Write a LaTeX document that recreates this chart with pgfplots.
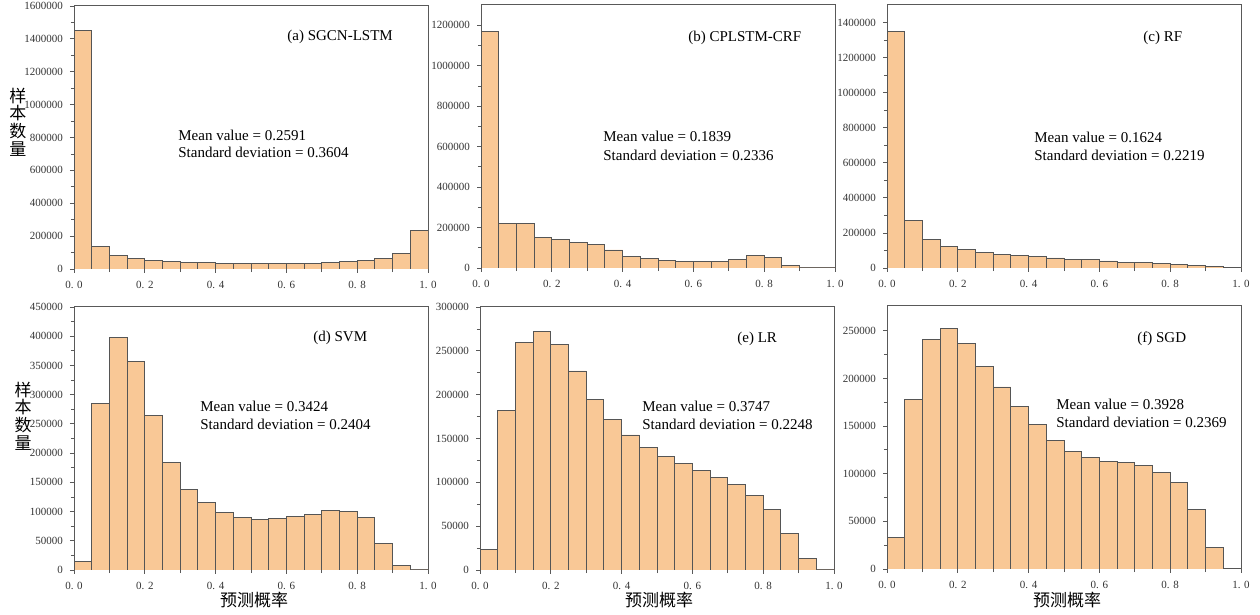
\documentclass[border=0pt]{standalone}
\usepackage{fontspec}
\setmainfont{Liberation Serif}
\newfontfamily\cjk{Noto Sans CJK SC}
\usepackage{pgfplots}
\pgfplotsset{compat=1.18}
\definecolor{barfill}{RGB}{249,200,150}
\definecolor{bardraw}{RGB}{85,85,85}
\pgfplotsset{
  hist/.style={
    scale only axis, width=177pt, height=131.5pt, anchor=south west,
    xmin=0, xmax=1, ymin=0,
    xtick={0,0.2,0.4,0.6,0.8,1.0},
    xticklabels={0. 0,0. 2,0. 4,0. 6,0. 8,1. 0},
    minor xtick={0.1,0.3,0.5,0.7,0.9},
    minor y tick num=1,
    tick align=outside, xtick pos=bottom, ytick pos=left,
    major tick length=2pt, minor tick length=1.6pt,
    axis line style={draw=black!65, line width=0.5pt},
    tick style={draw=black!65, line width=0.4pt},
    ticklabel style={font=\fontsize{5.5pt}{6pt}\selectfont, text=black!80},
    xticklabel style={yshift=-0.5pt},
    scaled y ticks=false,
    yticklabel style={/pgf/number format/fixed,/pgf/number format/1000 sep={},/pgf/number format/assume math mode=true},
    xticklabel style={/pgf/number format/assume math mode=true},
  },
  bars/.style={ybar interval, fill=barfill, draw=bardraw, line width=0.45pt},
}
\begin{document}
\begin{tikzpicture}
\path[use as bounding box] (0,0) rectangle (630pt,307.5pt);
% (a)
\begin{axis}[hist, at={(37pt,173pt)}, ymax=1600000,
  ytick={0,200000,400000,600000,800000,1000000,1200000,1400000,1600000}]
\addplot[bars] coordinates {(0,1450000) (0.05,136000) (0.10,84000) (0.15,64000) (0.20,54000) (0.25,48000) (0.30,42000) (0.35,37000) (0.40,35000) (0.45,35000) (0.50,34000) (0.55,34000) (0.60,35000) (0.65,35000) (0.70,38000) (0.75,45000) (0.80,51000) (0.85,64000) (0.90,94000) (0.95,235000) (1.0,235000)};
\end{axis}
% (b)
\begin{axis}[hist, at={(240.5pt,173.5pt)}, ymax=1300000,
  ytick={0,200000,400000,600000,800000,1000000,1200000}]
\addplot[bars] coordinates {(0,1167000) (0.05,219000) (0.10,219000) (0.15,151000) (0.20,141000) (0.25,128000) (0.30,118000) (0.35,89000) (0.40,59000) (0.45,48000) (0.50,39500) (0.55,30000) (0.60,30000) (0.65,31000) (0.70,43000) (0.75,64000) (0.80,54000) (0.85,13000) (0.90,0) (0.95,0) (1.0,0)};
\end{axis}
% (c)
\begin{axis}[hist, at={(443.5pt,173.5pt)}, ymax=1500000,
  ytick={0,200000,400000,600000,800000,1000000,1200000,1400000}]
\addplot[bars] coordinates {(0,1347000) (0.05,272000) (0.10,162000) (0.15,124000) (0.20,105000) (0.25,90000) (0.30,78000) (0.35,70500) (0.40,63000) (0.45,57000) (0.50,51000) (0.55,46000) (0.60,40000) (0.65,34000) (0.70,32000) (0.75,27000) (0.80,21000) (0.85,15000) (0.90,11000) (0.95,5000) (1.0,5000)};
\end{axis}
% (d)
\begin{axis}[hist, at={(37pt,22.5pt)}, ymax=450000,
  ytick={0,50000,100000,150000,200000,250000,300000,350000,400000,450000}]
\addplot[bars] coordinates {(0,14300) (0.05,285500) (0.10,398000) (0.15,356000) (0.20,265000) (0.25,184000) (0.30,138000) (0.35,116000) (0.40,99000) (0.45,90000) (0.50,87000) (0.55,88000) (0.60,91000) (0.65,95000) (0.70,102000) (0.75,100500) (0.80,90000) (0.85,45700) (0.90,8000) (0.95,0) (1.0,0)};
\end{axis}
% (e)
\begin{axis}[hist, at={(240pt,22.5pt)}, ymax=300000,
  ytick={0,50000,100000,150000,200000,250000,300000}]
\addplot[bars] coordinates {(0,23200) (0.05,182000) (0.10,260000) (0.15,272000) (0.20,257700) (0.25,227000) (0.30,195000) (0.35,172000) (0.40,154000) (0.45,140000) (0.50,129000) (0.55,121500) (0.60,114000) (0.65,106000) (0.70,98000) (0.75,85000) (0.80,68500) (0.85,42000) (0.90,13300) (0.95,0) (1.0,0)};
\end{axis}
% (f)
\begin{axis}[hist, at={(443.5pt,23pt)}, ymax=276000,
  ytick={0,50000,100000,150000,200000,250000}]
\addplot[bars] coordinates {(0,32800) (0.05,178000) (0.10,241000) (0.15,252000) (0.20,237000) (0.25,213000) (0.30,191000) (0.35,171000) (0.40,152000) (0.45,135000) (0.50,123600) (0.55,117000) (0.60,112800) (0.65,112000) (0.70,109000) (0.75,101600) (0.80,90800) (0.85,62000) (0.90,23000) (0.95,700) (1.0,700)};
\end{axis}
% texts
\begin{scope}[every node/.style={inner sep=0pt, anchor=west, font=\fontsize{7.5pt}{9pt}\selectfont}]
\node at (143.5pt,289pt) {(a) SGCN-LSTM};
\node at (344pt,288.5pt) {(b) CPLSTM-CRF};
\node at (571.5pt,288.5pt) {(c) RF};
\node at (156.5pt,138.5pt) {(d) SVM};
\node at (368.5pt,138pt) {(e) LR};
\node at (568.5pt,138pt) {(f) SGD};
\node at (89pt,240pt) {Mean value = 0.2591};
\node at (89pt,231.5pt) {Standard deviation = 0.3604};
\node at (301.5pt,239.5pt) {Mean value = 0.1839};
\node at (301.5pt,230pt) {Standard deviation = 0.2336};
\node at (517pt,239pt) {Mean value = 0.1624};
\node at (517pt,230pt) {Standard deviation = 0.2219};
\node at (100pt,104.5pt) {Mean value = 0.3424};
\node at (100pt,95.5pt) {Standard deviation = 0.2404};
\node at (321pt,104.5pt) {Mean value = 0.3747};
\node at (321pt,95.5pt) {Standard deviation = 0.2248};
\node at (528pt,105.5pt) {Mean value = 0.3928};
\node at (528pt,96.5pt) {Standard deviation = 0.2369};
\end{scope}
\begin{scope}[every node/.style={inner sep=0pt, font=\cjk\fontsize{8.5pt}{8.8pt}\selectfont, align=center}]
\node at (9pt,246.5pt) {样\\本\\数\\量};
\node at (11.5pt,99.5pt) {样\\本\\数\\量};
\node at (127pt,7.5pt) {预测概率};
\node at (329.5pt,7.5pt) {预测概率};
\node at (533.5pt,7.5pt) {预测概率};
\end{scope}
\end{tikzpicture}
\end{document}
